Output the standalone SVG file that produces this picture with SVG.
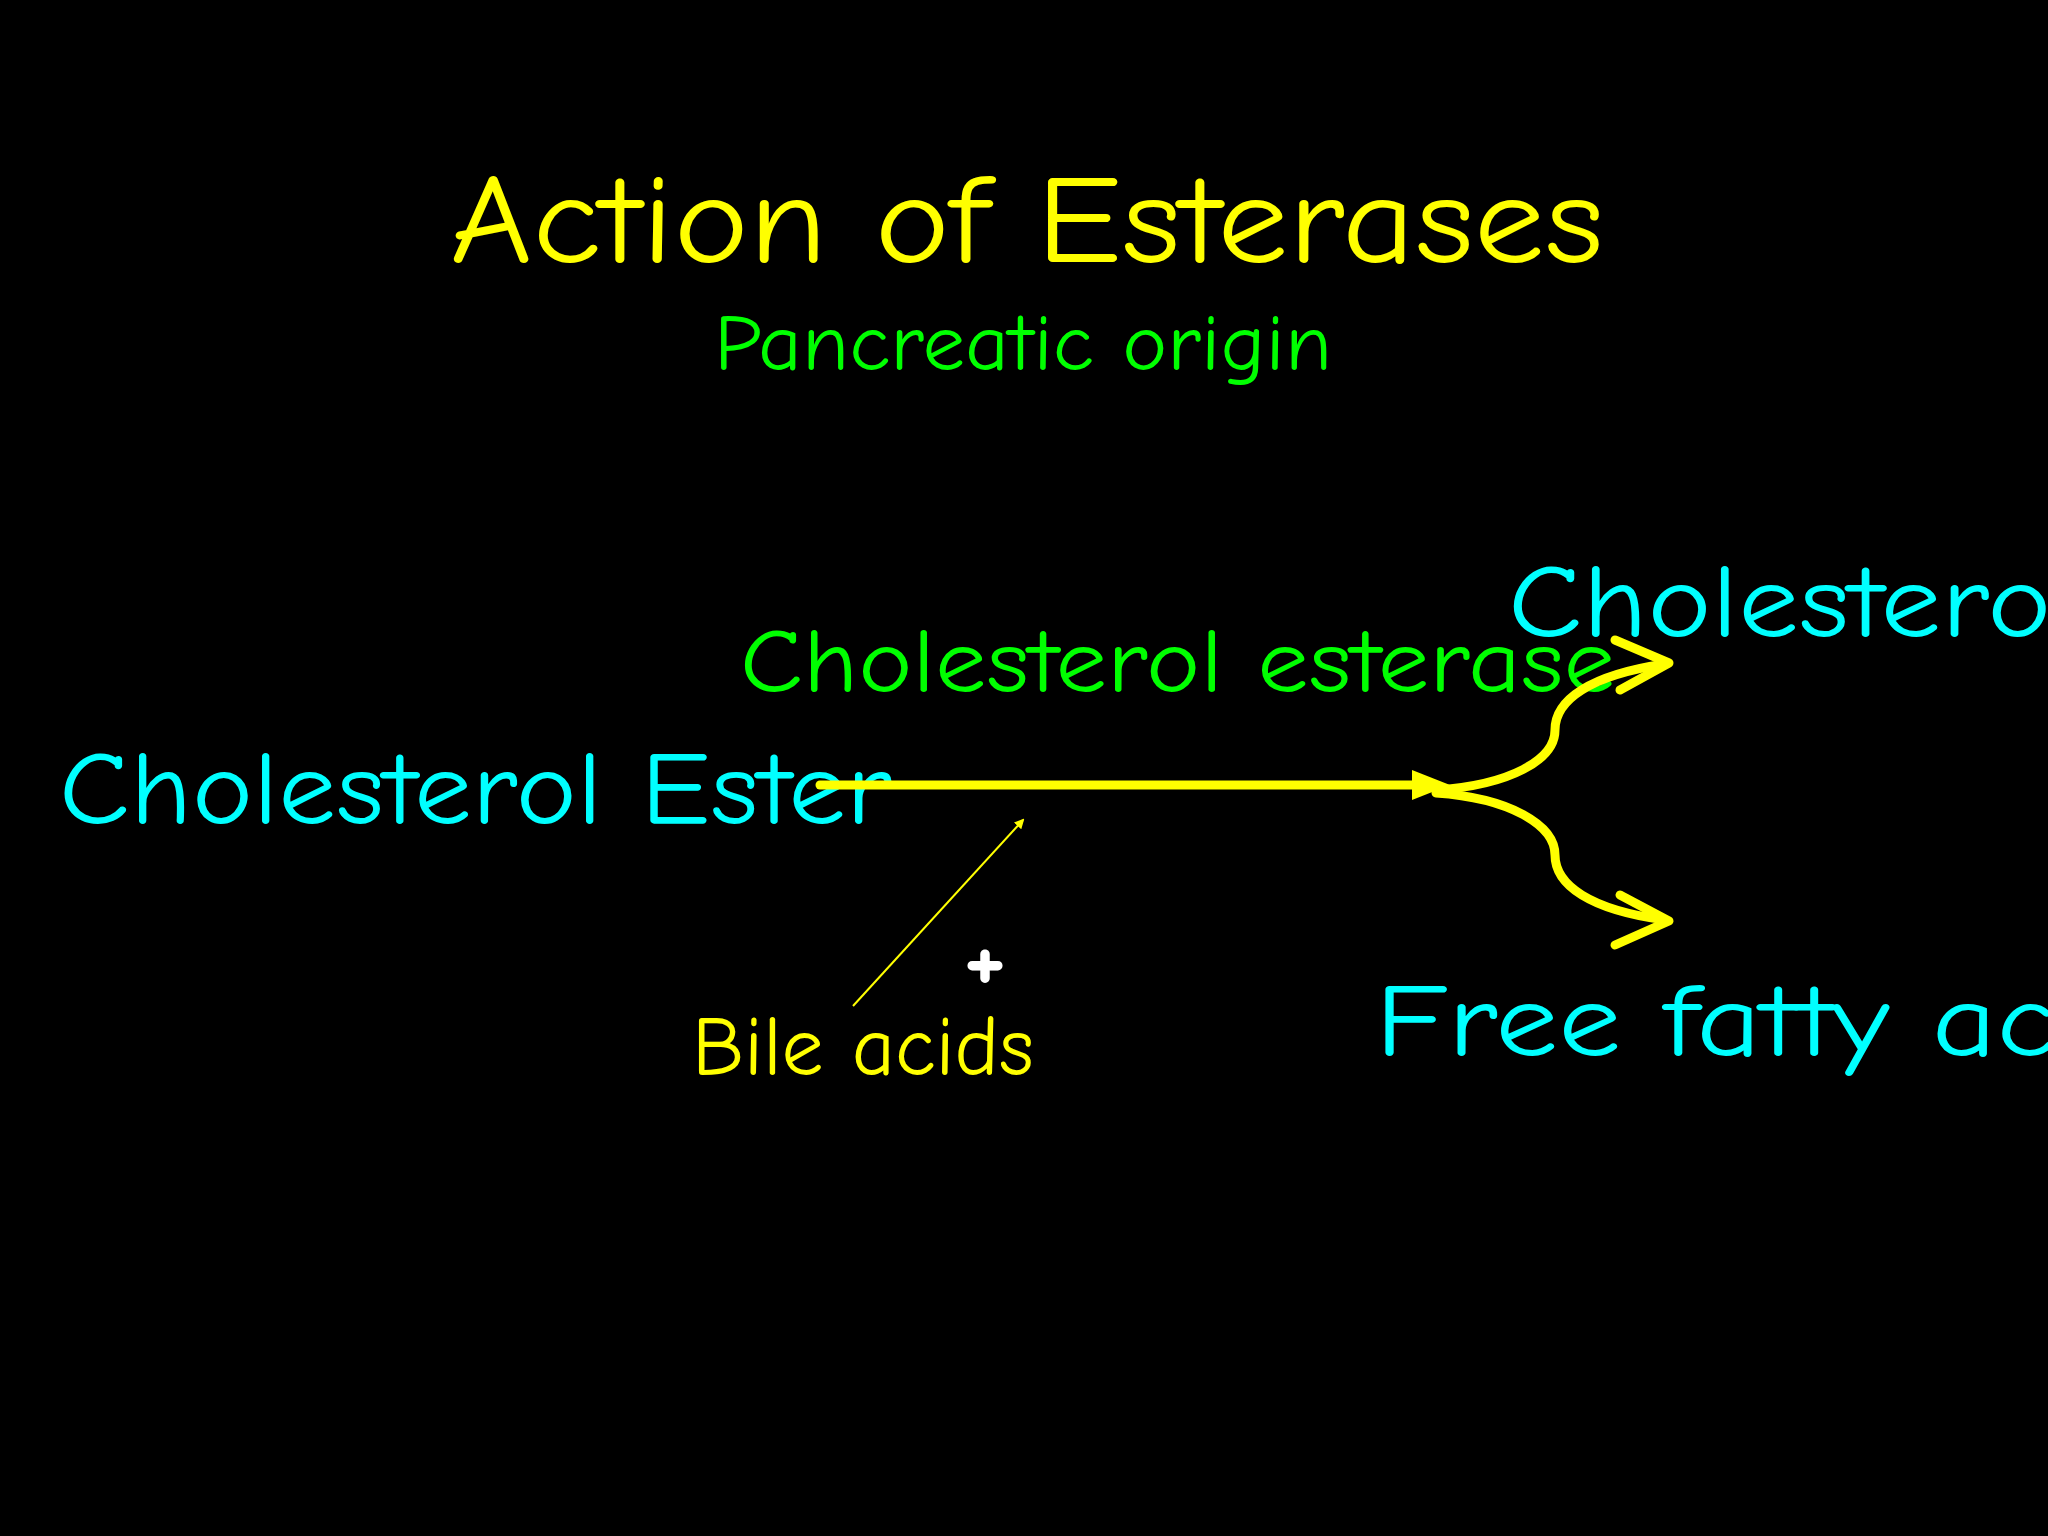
<svg xmlns="http://www.w3.org/2000/svg" width="2048" height="1536" viewBox="0 0 2048 1536">
<style>
text{font-family:"Comic Neue","Open Sans","DejaVu Sans",sans-serif}
.c{fill:#00FFFF;font-size:104px}
.g{fill:#00FF00}
.y{fill:#FFFF00}
.thick{fill:none;stroke:#FFFF00;stroke-width:9;stroke-linecap:round;stroke-linejoin:round}
</style>
<defs>
<marker id="tri" markerWidth="10" markerHeight="10" refX="8" refY="5" orient="auto" markerUnits="userSpaceOnUse" viewBox="0 0 10 10"><path d="M0,0 L10,5 L0,10 z" fill="#FFFF00"/></marker>
</defs>
<rect width="2048" height="1536" fill="#000"/>
<g id="title"><text x="450" y="262" class="y" font-size="125" textLength="1154" lengthAdjust="spacingAndGlyphs">Action of Esterases</text></g>
<g id="subtitle"><text x="714" y="370" class="g" font-size="80" textLength="618" lengthAdjust="spacingAndGlyphs">Pancreatic origin</text></g>
<g id="ester"><text x="59" y="823" class="c" textLength="833" lengthAdjust="spacingAndGlyphs">Cholesterol Ester</text></g>
<g id="enzyme"><text x="740" y="692" class="g" font-size="92" textLength="875" lengthAdjust="spacingAndGlyphs">Cholesterol esterase</text></g>
<g id="cholesterol"><text x="1508" y="636" class="c" textLength="570" lengthAdjust="spacingAndGlyphs">Cholesterol</text></g>
<g id="ffa"><text x="1375" y="1055" class="c" textLength="830" lengthAdjust="spacingAndGlyphs">Free fatty acids</text></g>
<g id="bile"><text x="692" y="1075" class="y" font-size="84" textLength="342" lengthAdjust="spacingAndGlyphs">Bile acids</text><text x="985" y="990" fill="#fff" font-size="100" font-weight="bold" text-anchor="middle">+</text></g>
<g id="connectors">
<line x1="820" y1="785" x2="1420" y2="785" class="thick"/>
<path d="M1412,770 L1450,785 L1412,800 z" fill="#FFFF00"/>
<path d="M1436,790 C1510,785 1555,760 1555,730 C1555,700 1590,675 1665,664" class="thick"/>
<path d="M1615,640 L1669,663 L1620,690" class="thick"/>
<path d="M1436,793 C1510,798 1555,825 1555,855 C1555,885 1590,910 1665,920" class="thick"/>
<path d="M1620,895 L1669,921 L1615,945" class="thick"/>
<line x1="853" y1="1006" x2="1023" y2="820" stroke="#FFFF00" stroke-width="2" marker-end="url(#tri)"/>
</g>
</svg>
